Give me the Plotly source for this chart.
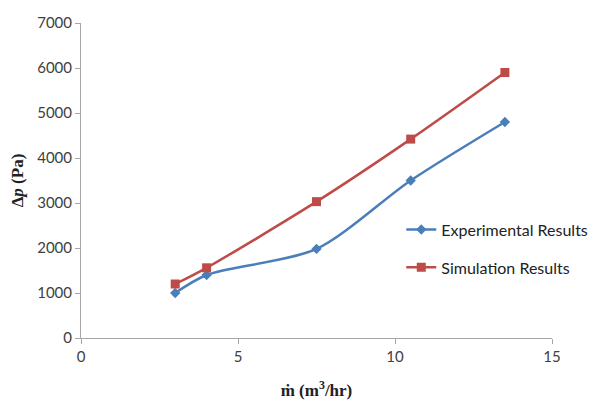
import plotly.graph_objects as go

flow = [3, 4, 7.5, 10.5, 13.5]
experimental = [1000, 1400, 1980, 3500, 4800]
simulation = [1200, 1560, 3030, 4420, 5900]

x_ticks = [0, 5, 10, 15]
y_ticks = [0, 1000, 2000, 3000, 4000, 5000, 6000, 7000]

fig = go.Figure()
fig.add_trace(go.Scatter(
    x=flow, y=experimental, name="Experimental Results", mode="lines+markers",
    line=dict(color="#4A7EBB", width=2.5, shape="spline", smoothing=0.8),
    marker=dict(symbol="diamond", size=8, color="#4A7EBB"),
    legendgroup="a"))
fig.add_trace(go.Scatter(
    x=flow, y=simulation, name="Simulation Results", mode="lines+markers",
    line=dict(color="#BE4B48", width=2.5, shape="spline", smoothing=0.8),
    marker=dict(symbol="square", size=9, color="#BE4B48"),
    legendgroup="b"))

axis_font = dict(family="Lato, Open Sans, sans-serif", size=15, color="#404040")
title_font = dict(family="Liberation Serif, serif", size=17, color="#222")
fig.update_layout(
    width=597, height=403,
    margin=dict(l=73, r=23, t=15, b=73),
    paper_bgcolor="white", plot_bgcolor="white",
    xaxis=dict(range=[0, 15], tickvals=x_ticks, showgrid=False, zeroline=False,
               showline=True, linecolor="#A6A6A6", linewidth=1,
               ticks="outside", ticklen=5, tickcolor="#A6A6A6",
               tickfont=axis_font, automargin=False,
               title=dict(text="<b>ṁ (m<sup>3</sup>/hr)</b>", font=title_font,
                          standoff=20)),
    yaxis=dict(range=[0, 7000], tickvals=y_ticks, showgrid=False, zeroline=False,
               showline=True, linecolor="#A6A6A6", linewidth=1,
               ticks="outside", ticklen=5, tickcolor="#A6A6A6",
               tickfont=axis_font, automargin=False,
               title=dict(text="<b>Δ<i>p</i> (Pa)</b>", font=title_font,
                          standoff=10)),
    legend=dict(x=0.68, y=0.398, xanchor="left", yanchor="top",
                font=dict(family="Lato, Open Sans, sans-serif", size=16, color="#222"),
                tracegroupgap=14, bgcolor="rgba(0,0,0,0)"),
)

fig.write_html("out.html")
